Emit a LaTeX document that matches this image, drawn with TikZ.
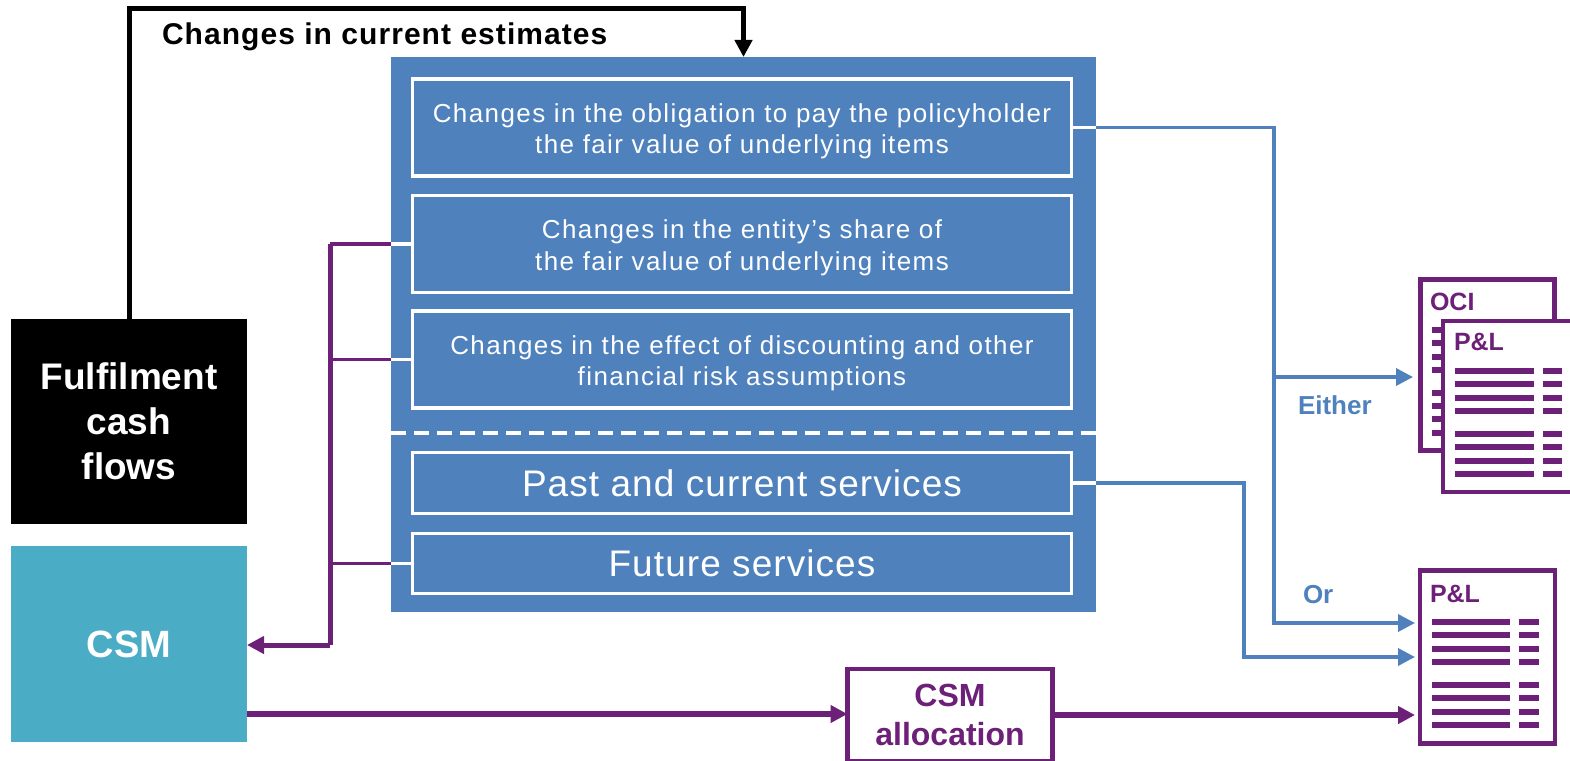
\documentclass[tikz,border=0pt]{standalone}
\usepackage{fontspec}
\setmainfont{Liberation Sans}
\usetikzlibrary{arrows.meta}
\definecolor{kblue}{HTML}{4F81BD}
\definecolor{kpurple}{HTML}{6D2077}
\definecolor{kteal}{HTML}{4BACC6}
\tikzset{
  x=1pt,y=-1pt,
  plain/.style={inner sep=0pt,outer sep=0pt,align=center},
  bigblue/.style={plain,fill=kblue},
  inbox/.style={plain,draw=white,line width=3.5pt,fill=kblue,minimum width=659pt},
  intext/.style={plain,text=white,font=\fontsize{26}{31.5}\selectfont\addfontfeature{LetterSpace=5.4}},
  inlarge/.style={plain,text=white,font=\fontsize{37}{40}\selectfont\addfontfeature{LetterSpace=2.9}},
  blackbox/.style={plain,fill=black,text=white,font=\fontsize{37}{45}\bfseries\selectfont},
  tealbox/.style={plain,fill=kteal,text=white,font=\fontsize{38}{44}\bfseries\selectfont},
  doc/.style={plain,draw=kpurple,line width=4.5pt,fill=white},
  doclabel/.style={plain,text=kpurple,font=\fontsize{25}{28}\bfseries\selectfont},
  lab/.style={plain,font=\fontsize{26}{28}\bfseries\selectfont},
  tip/.style={-{Triangle[length=17pt,width=17pt]}},
  bconn/.style={draw=kblue,line width=3.5pt},
  pconn/.style={draw=kpurple,line width=3.5pt},
  pthick/.style={draw=kpurple,line width=5.5pt},
  wstub/.style={draw=white,line width=3.5pt},
  rowline/.style={draw=kpurple,line width=5.5pt},
}
\begin{document}
\begin{tikzpicture}
\useasboundingbox (0,0) rectangle (1570,760);
\clip (0,0) rectangle (1570,760);
% main panel
\node[bigblue,minimum width=705pt,minimum height=555pt] (panel) at (743.5,334.5) {};
\node[inbox,minimum height=97pt] (b1) at (742,127.5) {};
\node[intext] (t1) at ([yshift=-4pt]b1.center) {Changes in the obligation to pay the policyholder\\the fair value of underlying items};
\node[inbox,minimum height=97pt] (b2) at (742,244) {};
\node[intext] (t2) at ([yshift=-4pt]b2.center) {Changes in the entity’s share of\\the fair value of underlying items};
\node[inbox,minimum height=97pt] (b3) at (742,359.5) {};
\node[intext] (t3) at ([yshift=-4pt]b3.center) {Changes in the effect of discounting and other\\financial risk assumptions};
\node[inbox,minimum height=61pt] (b4) at (742,483) {};
\node[inlarge] (t4) at ([yshift=0pt]b4.center) {Past and current services};
\node[inbox,minimum height=60pt] (b5) at (742,563.5) {};
\node[inlarge] (t5) at ([yshift=0pt]b5.center) {Future services};
\coordinate (dl) at (panel.west |- 0,433);
\coordinate (dr) at (panel.east |- 0,433);
\draw[white,line width=4.5pt,dash pattern=on 15pt off 8pt] (dl) -- (dr);
% left boxes
\node[blackbox,minimum width=236pt,minimum height=205pt] (fcf) at (129,421) {Fulfilment\\cash\\flows};
\node[tealbox,minimum width=236pt,minimum height=196pt] (csm) at (129,644) {CSM};
% allocation
\node[plain,draw=kpurple,line width=4.5pt,fill=white,text=kpurple,minimum width=205pt,minimum height=92pt,font=\fontsize{32}{39}\bfseries\selectfont] (alloc) at (950,715) {CSM\\allocation};
% documents
\node[doc,minimum width=134pt,minimum height=171pt] (oci) at (1487.5,365) {};
\foreach \y in {330,343,357,370,393,406,419,433} \draw[rowline] (1432,\y) -- (1441,\y);
\node[doclabel,anchor=west] (ocilab) at (1430,302) {OCI};
\node[doc,minimum width=140pt,minimum height=171pt] (pl1) at (1513,406.5) {};
\node[doclabel,anchor=west] (pl1lab) at (1454,342) {P\&L};
\foreach \y in {371,384,398,411,434,447,461,474} {\draw[rowline] (1455,\y) -- (1534,\y); \draw[rowline] (1543,\y) -- (1562,\y);}
\node[doc,minimum width=135pt,minimum height=173pt] (pl2) at (1487.5,657) {};
\node[doclabel,anchor=west] (pl2lab) at (1430,594) {P\&L};
\foreach \y in {622,635,649,662,685,698,712,725} {\draw[rowline] (1432,\y) -- (1510,\y); \draw[rowline] (1519,\y) -- (1539,\y);}
% labels
\node[lab,anchor=west,font=\fontsize{30}{32}\bfseries\selectfont\addfontfeature{LetterSpace=3.5}] (cce) at (162,37) {Changes in current estimates};
\node[lab,anchor=west,text=kblue] (either) at (1298,405) {Either};
\node[lab,anchor=west,text=kblue] (or) at (1303,595) {Or};
% connectors
\coordinate (c1) at (fcf.north |- 0,9);
\coordinate (c2) at (panel.north |- 0,9);
\draw[black,line width=5pt,tip] (fcf.north) -- (c1) -- (c2) -- (panel.north);
% blue
\draw[wstub] (b1.east) -- (panel.east |- b1.east);
\coordinate (e1) at (1274,0 |- b1.east);
\coordinate (e2) at (1274,623);
\coordinate (e3) at (1274,377);
\draw[bconn,tip] (panel.east |- b1.east) -- (e1) -- (e2) -- (1415,623);
\draw[bconn,tip] (e3) -- (1413,377);
\draw[wstub] (b4.east) -- (panel.east |- b4.east);
\coordinate (f1) at (1244,0 |- b4.east);
\coordinate (f2) at (1244,657);
\draw[bconn,tip] (panel.east |- b4.east) -- (f1) -- (f2) -- (1415,657);
% purple
\foreach \n in {b2,b3,b5} \draw[wstub] (\n.west) -- (panel.west |- \n.west);
\coordinate (g1) at (330,0 |- b2.west);
\coordinate (g2) at (330,645);
\draw[pconn] (panel.west |- b2.west) -- (g1);
\draw[pconn] (panel.west |- b3.west) -- (g1 |- b3.west);
\draw[pconn] (panel.west |- b5.west) -- (g1 |- b5.west);
\draw[pconn,line width=5pt] (g1) -- (g2);
\draw[pthick,line width=5pt,tip] (g2) -- (csm.east |- g2);
\coordinate (h1) at (csm.east |- 0,714);
\draw[pthick,tip] (h1) -- (alloc.west |- h1);
\draw[pthick,tip] (alloc.east) -- (1415,715);
\end{tikzpicture}
\end{document}
